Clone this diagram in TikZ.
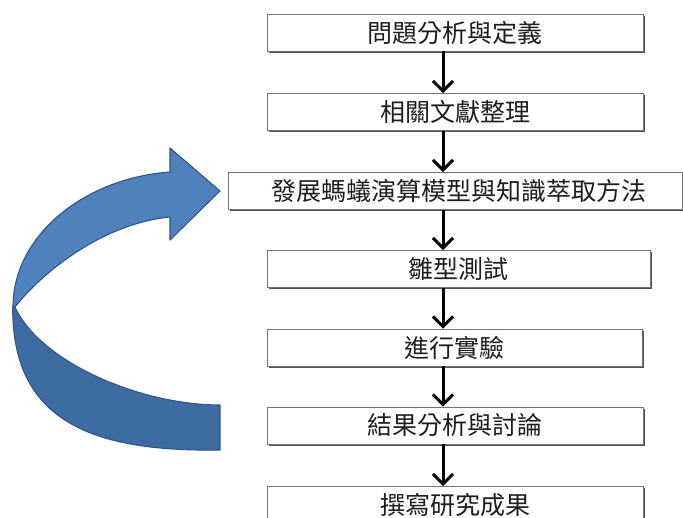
\documentclass[tikz,border=0pt]{standalone}
\usepackage{fontspec}
\newfontfamily\cjk{Noto Sans CJK TC}
\usetikzlibrary{arrows.meta,shadows}
\definecolor{upblue}{HTML}{4F81BD}
\definecolor{lowblue}{HTML}{3F6BA3}
\definecolor{edgeblue}{HTML}{2E5787}
\definecolor{inkgray}{HTML}{1E1E1E}
\begin{document}
\begin{tikzpicture}[x=1pt,y=-1pt,
  stepbox/.style={rectangle, draw=black!55, line width=0.8pt, fill=white,
    inner sep=0pt, minimum height=37pt, text=inkgray,
    font=\cjk\fontsize{25pt}{28pt}\selectfont,
    drop shadow={shadow xshift=1.6pt, shadow yshift=-1.6pt, opacity=0.85, fill=black!80}},
  flow/.style={draw=black, line width=3pt,
    -{Straight Barb[length=10pt, width=20pt, line width=3pt]}},
  ribbon/.style={draw=edgeblue, line width=1.1pt, line join=round},
]
\useasboundingbox (0,0) rectangle (683,518);
\clip (0,0) rectangle (683,518);

% process boxes
\node[stepbox, minimum width=376pt] (b1) at (455,32.5)    {問題分析與定義};
\node[stepbox, minimum width=376pt] (b2) at (455,112)     {相關文獻整理};
\node[stepbox, minimum width=454pt] (b3) at (455,191)     {\hspace*{7pt}發展螞蟻演算模型與知識萃取方法};
\node[stepbox, minimum width=383pt] (b4) at (458.5,269)   {雛型測試};
\node[stepbox, minimum width=375pt] (b5) at (454.5,347.5) {進行實驗};
\node[stepbox, minimum width=376pt] (b6) at (455,425.5)   {結果分析與討論};
\node[stepbox, minimum width=376pt] (b7) at (455,505)     {撰寫研究成果};

% vertical flow arrows
\coordinate (ax) at (443,0);
\draw[flow] (b1.south -| ax) -- (b2.north -| ax);
\draw[flow] (b2.south -| ax) -- (b3.north -| ax);
\draw[flow] (b3.south -| ax) -- (b4.north -| ax);
\draw[flow] (b4.south -| ax) -- (b5.north -| ax);
\draw[flow] (b5.south -| ax) -- (b6.north -| ax);
\draw[flow] (b6.south -| ax) -- (b7.north -| ax);

% curved feedback arrow: lower (shaded) band
\path[ribbon, fill=lowblue]
  (12.7,307) .. controls (12,420) and (90,452) .. (220,450)
  -- (220,405)
  .. controls (140,405) and (40,362) .. (15,307) -- cycle;
% curved feedback arrow: upper band with head
\path[ribbon, fill=upblue]
  (13,307) .. controls (13,235) and (85,178) .. (170,172)
  -- (170,148) -- (220,191) -- (170,240) -- (170,217)
  .. controls (100,224) and (40,275) .. (15,307) -- cycle;
\end{tikzpicture}
\end{document}
